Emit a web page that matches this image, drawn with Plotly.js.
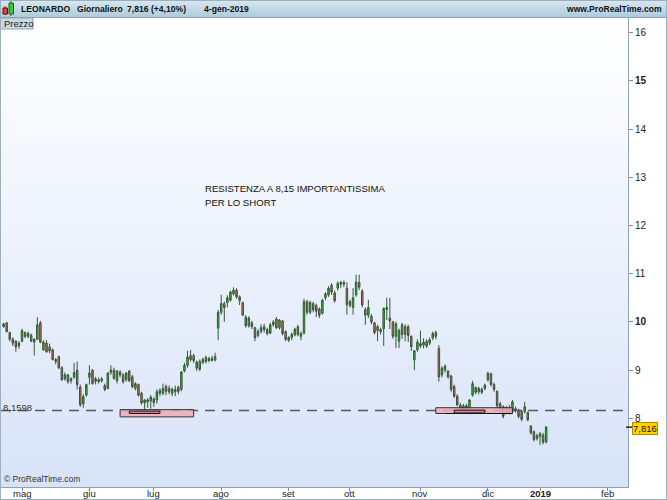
<!DOCTYPE html>
<html>
<head>
<meta charset="utf-8">
<script src="https://cdn.plot.ly/plotly-3.0.1.min.js"></script>
<style>
  html, body { margin: 0; padding: 0; background: #ffffff; }
  #wrap { position: relative; width: 667px; height: 500px; overflow: hidden; background: #fff; }
  #hdr { position: absolute; left: 0; top: 0; width: 667px; height: 17px;
         background: linear-gradient(to bottom, #d9e8f0, #aecbdb); border-bottom: 1px solid #8aa6b8; }
  #bg { position: absolute; left: 1px; top: 18px; width: 627px; height: 469px;
        background: linear-gradient(to bottom, #ffffff 0%, #eef3fc 45%, #d8e3f8 100%); }
  #frame { position: absolute; left: 0; top: 0; width: 665px; height: 498px; border: 1px solid #9db0c0; pointer-events: none; }
  #chart { position: absolute; left: 0; top: 0; width: 667px; height: 500px; }
</style>
</head>
<body>
<div id="wrap">
  <div id="hdr"></div>
  <div id="bg"></div>
  <div id="chart"></div>
  <div id="frame"></div>
</div>
<script>
// ---------------- DATA ----------------
const holidays = ['2018-05-01','2018-08-15','2018-12-24','2018-12-25','2018-12-26','2018-12-31','2019-01-01'];
const firstDay = '2018-04-23';
const lastCalendarDay = '2019-02-28';

const open = [9.90,9.98,9.78,9.64,9.60,9.50,9.60,9.78,9.70,9.72,9.58,9.64,9.98,9.42,9.56,9.48,9.42,9.18,9.28,9.05,
8.82,8.90,8.78,8.85,9.00,8.65,8.30,8.48,8.85,9.00,8.82,8.76,8.78,8.68,8.62,8.95,9.00,8.78,8.96,8.90,
8.80,8.98,8.86,8.62,8.70,8.52,8.32,8.38,8.36,8.40,8.38,8.58,8.52,8.66,8.62,8.52,8.55,8.64,8.60,8.98,
9.10,9.30,9.30,9.04,9.18,9.16,9.26,9.20,9.20,9.21,9.87,10.20,10.38,10.40,10.45,10.58,10.66,10.44,10.40,10.10,
9.92,9.98,9.88,9.72,9.80,9.90,9.84,9.77,9.94,10.06,9.88,10.02,9.80,9.62,9.68,9.73,9.90,9.70,9.77,10.42,
10.20,10.38,10.34,10.27,10.18,10.50,10.56,10.76,10.60,10.70,10.78,10.82,10.70,10.34,10.30,10.56,10.82,10.64,10.26,10.14,
10.12,9.98,9.82,9.84,9.86,10.26,10.08,10.00,9.70,9.60,9.94,9.74,9.90,9.70,9.21,9.42,9.50,9.52,9.60,9.56,
9.67,9.78,9.45,8.90,9.00,8.98,8.88,8.66,8.46,8.20,8.26,8.20,8.21,8.48,8.64,8.55,8.60,8.62,8.80,8.92,
8.70,8.56,8.30,8.24,8.12,8.22,8.14,8.20,8.17,8.14,8.14,8.12,7.84,7.72,7.58,7.62,7.65,7.51];

const high = [9.98,10.00,9.80,9.68,9.62,9.60,9.86,9.80,9.80,9.76,9.66,10.10,10.02,9.62,9.62,9.55,9.45,9.25,9.30,9.08,
8.95,8.92,8.85,9.15,9.18,8.70,8.50,8.72,9.10,9.02,8.86,8.85,8.86,8.72,8.96,9.10,9.05,9.00,9.00,8.94,
8.96,9.00,8.90,8.75,8.72,8.55,8.40,8.42,8.48,8.44,8.60,8.62,8.72,8.70,8.68,8.64,8.68,8.68,8.98,9.15,
9.40,9.42,9.34,9.20,9.22,9.26,9.30,9.28,9.30,9.36,10.25,10.56,10.42,10.55,10.65,10.72,10.70,10.55,10.42,10.14,
10.12,10.02,9.90,9.85,9.95,9.96,9.88,9.98,10.04,10.10,10.06,10.04,9.82,9.70,9.78,9.88,9.94,9.80,10.48,10.46,
10.44,10.42,10.38,10.30,10.48,10.62,10.74,10.80,10.65,10.84,10.85,10.86,10.82,10.46,10.70,10.98,10.98,10.68,10.30,10.46,
10.16,10.00,9.94,9.88,10.30,10.50,10.50,10.02,10.00,9.86,9.98,9.95,9.94,9.72,9.42,9.64,9.82,9.66,9.64,9.68,
9.80,9.82,9.52,9.08,9.12,9.00,8.90,8.70,8.50,8.32,8.30,8.30,8.40,8.78,8.66,8.66,8.64,8.72,8.97,8.95,
8.74,8.58,8.34,8.27,8.26,8.28,8.38,8.24,8.20,8.18,8.34,8.14,7.86,7.75,7.68,7.72,7.70,7.84];

const low = [9.88,9.78,9.60,9.50,9.38,9.44,9.58,9.66,9.66,9.58,9.30,9.62,9.56,9.40,9.36,9.35,9.20,9.12,9.02,8.78,
8.78,8.72,8.72,8.82,8.60,8.24,8.22,8.45,8.70,8.70,8.70,8.72,8.74,8.56,8.60,8.90,8.80,8.72,8.85,8.72,
8.76,8.75,8.62,8.58,8.45,8.28,8.07,8.22,8.20,8.24,8.30,8.46,8.48,8.48,8.50,8.46,8.46,8.50,8.56,8.95,
9.05,9.18,9.15,8.98,8.98,9.12,9.14,9.16,9.18,9.18,9.62,10.15,10.00,10.30,10.42,10.55,10.48,10.35,10.12,9.88,
9.88,9.85,9.60,9.68,9.76,9.78,9.72,9.74,9.90,9.85,9.84,9.72,9.60,9.58,9.62,9.70,9.70,9.62,9.74,10.15,
10.16,10.20,10.10,10.08,10.15,10.45,10.52,10.56,10.40,10.65,10.70,10.72,10.15,10.30,10.15,10.52,10.66,10.30,9.94,10.08,
9.95,9.74,9.60,9.74,9.50,10.04,9.85,9.65,9.46,9.46,9.65,9.60,9.58,9.40,9.00,9.38,9.46,9.45,9.46,9.52,
9.62,9.64,8.76,8.85,8.95,8.82,8.55,8.42,8.25,8.16,8.15,8.14,8.18,8.45,8.50,8.50,8.50,8.58,8.76,8.66,
8.55,8.20,8.15,8.00,8.08,8.08,8.10,8.12,8.00,7.94,8.10,7.94,7.66,7.52,7.54,7.45,7.46,7.48];

const close = [9.96,9.80,9.64,9.56,9.48,9.56,9.82,9.70,9.76,9.60,9.64,9.94,9.58,9.58,9.38,9.40,9.22,9.22,9.05,8.80,
8.90,8.76,8.82,8.95,8.70,8.28,8.45,8.70,8.94,8.72,8.77,8.80,8.82,8.60,8.94,9.00,8.83,8.98,8.90,8.76,
8.94,8.78,8.66,8.72,8.48,8.32,8.38,8.34,8.44,8.33,8.55,8.52,8.62,8.56,8.55,8.60,8.60,8.56,8.96,9.10,
9.27,9.22,9.20,9.17,9.02,9.22,9.18,9.24,9.24,9.28,10.20,10.38,10.30,10.50,10.62,10.66,10.52,10.52,10.14,9.92,
10.08,9.90,9.67,9.80,9.88,9.84,9.76,9.94,10.00,9.88,10.04,9.76,9.64,9.68,9.74,9.85,9.74,9.76,10.42,10.20,
10.40,10.25,10.22,10.14,10.45,10.58,10.70,10.62,10.44,10.80,10.82,10.78,10.36,10.42,10.50,10.83,10.72,10.35,10.14,10.30,
10.00,9.78,9.90,9.80,10.28,10.30,10.02,9.70,9.96,9.82,9.74,9.90,9.72,9.49,9.40,9.58,9.55,9.58,9.50,9.63,
9.76,9.70,8.86,9.04,9.08,8.86,8.60,8.46,8.28,8.27,8.20,8.26,8.38,8.72,8.54,8.62,8.54,8.69,8.93,8.70,
8.60,8.26,8.20,8.04,8.22,8.12,8.34,8.16,8.04,7.98,8.24,7.97,7.70,7.56,7.64,7.68,7.508,7.816];

const monthKeys   = ['2018-05','2018-06','2018-07','2018-08','2018-09','2018-10','2018-11','2018-12','2019-01','2019-02'];
const monthLabels = ['mag','giu','lug','ago','set','ott','nov','dic','<b>2019</b>','feb'];
const priceTicks  = [8,9,10,11,12,13,14,15,16];
const priceLabels = ['8','9','<b>10</b>','11','12','13','14','<b>15</b>','16'];

const supportLevel = 8.1598;
const lastPrice = 7.816;
// drawn zones: [startDate, endDate, low, high]
const zonesOuter = [['2018-06-15','2018-07-19',8.03,8.18], ['2018-11-08','2018-12-13',8.10,8.22]];
const zonesInner = [['2018-06-20','2018-07-04',8.10,8.15], ['2018-11-16','2018-11-30',8.11,8.17]];
const zoneLines  = [['2018-11-13','2018-12-13',8.10]];

// ---------------- calendar of trading days ----------------
function tradingDays(a, b, hol) {
  const out = [];
  const d = new Date(a + 'T00:00:00Z');
  const end = new Date(b + 'T00:00:00Z');
  while (d <= end) {
    const s = d.toISOString().slice(0, 10);
    const wd = d.getUTCDay();
    if (wd !== 0 && wd !== 6 && hol.indexOf(s) < 0) out.push(s);
    d.setUTCDate(d.getUTCDate() + 1);
  }
  return out;
}
const calendar = tradingDays(firstDay, lastCalendarDay, holidays);
const dates = calendar.slice(0, close.length);
const xIdx = dates.map((d, i) => i);
const pos = s => calendar.indexOf(s);
const tickVals = monthKeys.map(k => calendar.findIndex(d => d.slice(0, 7) === k));

// ---------------- pixel helpers for decorations ----------------
const W = 667, H = 500, M = {l: 1, r: 39, t: 18, b: 13};
const PW = W - M.l - M.r, PH = H - M.t - M.b;
const px = x => (x - M.l) / PW;
const py = y => (H - M.b - y) / PH;
const FONT = 'Liberation Sans, Arial, sans-serif';

const trace = {
  type: 'candlestick',
  x: xIdx, open: open, high: high, low: low, close: close,
  text: dates, hoverinfo: 'text+y',
  increasing: {line: {color: '#2f5f2f', width: 1}, fillcolor: '#3bb03b'},
  decreasing: {line: {color: '#3f4f3f', width: 1}, fillcolor: '#c8704f'},
  whiskerwidth: 0
};

const shapes = [];
// dashed level
shapes.push({type: 'line', xref: 'paper', yref: 'y', x0: 0, x1: 1, y0: supportLevel, y1: supportLevel,
  line: {color: '#5a5a5a', width: 1.5, dash: '10px,7px'}, layer: 'above'});
zonesOuter.forEach(z => shapes.push({type: 'rect', xref: 'x', yref: 'y', x0: pos(z[0]), x1: pos(z[1]), y0: z[2], y1: z[3],
  fillcolor: 'rgba(240,170,185,0.85)', line: {color: '#333', width: 1}, layer: 'above'}));
zonesInner.forEach(z => shapes.push({type: 'rect', xref: 'x', yref: 'y', x0: pos(z[0]), x1: pos(z[1]), y0: z[2], y1: z[3],
  fillcolor: 'rgba(225,120,140,0.9)', line: {color: '#111', width: 1}, layer: 'above'}));
zoneLines.forEach(z => shapes.push({type: 'line', xref: 'x', yref: 'y', x0: pos(z[0]), x1: pos(z[1]), y0: z[2], y1: z[2],
  line: {color: '#111', width: 1.2}, layer: 'above'}));
// header icon
shapes.push({type: 'line', xref: 'paper', yref: 'paper', x0: px(5), x1: px(5), y0: py(15), y1: py(6), line: {color: '#555', width: 1}});
shapes.push({type: 'rect', xref: 'paper', yref: 'paper', x0: px(3), x1: px(7.5), y0: py(14), y1: py(8), fillcolor: '#e04040', line: {color: '#700', width: 1}});
shapes.push({type: 'line', xref: 'paper', yref: 'paper', x0: px(11), x1: px(11), y0: py(16), y1: py(1), line: {color: '#555', width: 1}});
shapes.push({type: 'rect', xref: 'paper', yref: 'paper', x0: px(9), x1: px(13.5), y0: py(14), y1: py(3), fillcolor: '#40c040', line: {color: '#070', width: 1}});
// "Prezzo" tab
shapes.push({type: 'rect', xref: 'paper', yref: 'paper', x0: px(0), x1: px(33), y0: py(29), y1: py(18),
  fillcolor: '#cbd9e3', line: {color: '#8ea6b6', width: 1}});
// last price marker tick
shapes.push({type: 'line', xref: 'paper', yref: 'y', x0: px(626), x1: px(632), y0: lastPrice, y1: lastPrice, line: {color: '#222', width: 1.5}});

const ann = (text, x, y, opts) => Object.assign({text: text, xref: 'paper', yref: 'paper', x: px(x), y: py(y),
  xanchor: 'left', yanchor: 'middle', showarrow: false, font: {family: FONT, size: 10, color: '#111'}}, opts || {});
const HF = {family: FONT, size: 8.6, color: '#111'};

const annotations = [
  ann('<b>LEONARDO</b>', 19, 9, {font: HF}),
  ann('<b>Giornaliero</b>', 75, 9, {font: HF}),
  ann('<b>7,816 (+4,10%)</b>', 125, 9, {font: HF}),
  ann('<b>4-gen-2019</b>', 202, 9, {font: HF}),
  ann('<b>www.ProRealTime.com</b>', 664, 9, {xanchor: 'right', font: HF}),
  ann('Prezzo', 2, 23.5, {font: {family: FONT, size: 9.5, color: '#222'}}),
  ann('RESISTENZA A 8,15 IMPORTANTISSIMA', 203, 188, {font: {family: FONT, size: 9.6, color: '#111'}}),
  ann('PER LO SHORT', 203, 202, {font: {family: FONT, size: 9.6, color: '#111'}}),
  ann('8,1598', 1, 407, {font: {family: FONT, size: 9.5, color: '#333'}}),
  ann('© ProRealTime.com', 2, 479, {font: {family: FONT, size: 8.5, color: '#333'}}),
  {text: '7,816', xref: 'paper', yref: 'y', x: px(632), y: lastPrice, yshift: -1, xanchor: 'left', yanchor: 'middle', showarrow: false,
   bgcolor: '#ffd200', bordercolor: '#b08c00', borderwidth: 1, borderpad: 0,
   font: {family: FONT, size: 9.5, color: '#111'}}
];
// month labels drawn just under the axis (from the tick arrays)
tickVals.forEach((v, i) => annotations.push({text: monthLabels[i], xref: 'x', yref: 'paper', x: v, y: py(493.5),
  xanchor: 'center', yanchor: 'middle', showarrow: false, font: {family: FONT, size: 9.5, color: '#222'}}));

const layout = {
  width: W, height: H, autosize: false,
  margin: M,
  paper_bgcolor: 'rgba(0,0,0,0)', plot_bgcolor: 'rgba(0,0,0,0)',
  showlegend: false,
  font: {family: FONT, size: 10, color: '#222'},
  xaxis: {type: 'linear', range: [-0.85, 203.7], rangeslider: {visible: false},
    tickmode: 'array', tickvals: tickVals, ticktext: monthLabels, showticklabels: false,
    ticks: 'outside', ticklen: 3, tickcolor: '#888',
    showgrid: false, zeroline: false, showline: true, linecolor: '#8ea4b8', linewidth: 1, fixedrange: true},
  yaxis: {side: 'right', range: [6.575, 16.305], tickmode: 'array', tickvals: priceTicks, ticktext: priceLabels,
    ticks: 'outside', ticklen: 4, tickcolor: '#888', tickfont: {family: FONT, size: 10, color: '#222'},
    showgrid: false, zeroline: false, showline: true, linecolor: '#8ea4b8', linewidth: 1, fixedrange: true},
  shapes: shapes,
  annotations: annotations
};

Plotly.newPlot('chart', [trace], layout, {displayModeBar: false, staticPlot: true});
</script>
</body>
</html>
